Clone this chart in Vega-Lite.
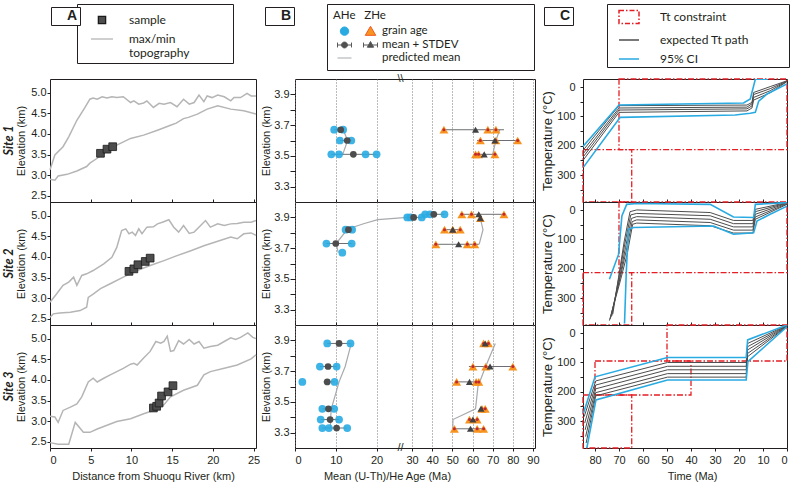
{
"$schema": "https://vega.github.io/schema/vega-lite/v6.json",
"background": "white",
"padding": {"left": 2, "top": 3, "right": 0, "bottom": 0},
"columns": 5,
"spacing": {"row": 0, "column": 0},
"bounds": "flush",
"resolve": {"scale": {"color": "independent", "fill": "independent", "shape": "independent", "stroke": "independent", "strokeDash": "independent"}},
"datasets": {
"topo": [
{"s":1,"k":"max","d":0,"e":3.13},{"s":1,"k":"max","d":0.6,"e":3.49},{"s":1,"k":"max","d":1.6,"e":3.69},{"s":1,"k":"max","d":2.3,"e":3.93},{"s":1,"k":"max","d":3.3,"e":4.33},{"s":1,"k":"max","d":4.3,"e":4.64},{"s":1,"k":"max","d":4.9,"e":4.84},{"s":1,"k":"max","d":5.3,"e":4.87},{"s":1,"k":"max","d":5.8,"e":4.84},{"s":1,"k":"max","d":6.4,"e":4.9},{"s":1,"k":"max","d":7.0,"e":4.87},{"s":1,"k":"max","d":7.6,"e":4.9},{"s":1,"k":"max","d":8.2,"e":4.88},{"s":1,"k":"max","d":9.0,"e":4.9},{"s":1,"k":"max","d":9.9,"e":4.76},{"s":1,"k":"max","d":10.3,"e":4.8},{"s":1,"k":"max","d":10.9,"e":4.72},{"s":1,"k":"max","d":11.5,"e":4.75},{"s":1,"k":"max","d":11.9,"e":4.8},{"s":1,"k":"max","d":12.7,"e":4.64},{"s":1,"k":"max","d":13.4,"e":4.74},{"s":1,"k":"max","d":14.0,"e":4.72},{"s":1,"k":"max","d":14.8,"e":4.76},{"s":1,"k":"max","d":15.6,"e":4.66},{"s":1,"k":"max","d":16.4,"e":4.84},{"s":1,"k":"max","d":17.1,"e":4.72},{"s":1,"k":"max","d":17.7,"e":4.76},{"s":1,"k":"max","d":18.3,"e":4.94},{"s":1,"k":"max","d":18.9,"e":4.78},{"s":1,"k":"max","d":19.3,"e":4.92},{"s":1,"k":"max","d":19.9,"e":4.88},{"s":1,"k":"max","d":20.6,"e":4.94},{"s":1,"k":"max","d":21.4,"e":4.9},{"s":1,"k":"max","d":22.2,"e":4.8},{"s":1,"k":"max","d":22.6,"e":4.88},{"s":1,"k":"max","d":23.4,"e":4.88},{"s":1,"k":"max","d":24.2,"e":4.98},{"s":1,"k":"max","d":24.7,"e":4.92},{"s":1,"k":"max","d":25.3,"e":4.92},
{"s":1,"k":"min","d":0,"e":2.9},{"s":1,"k":"min","d":0.6,"e":2.88},{"s":1,"k":"min","d":1.0,"e":2.98},{"s":1,"k":"min","d":2.1,"e":3.02},{"s":1,"k":"min","d":3.3,"e":3.1},{"s":1,"k":"min","d":4.5,"e":3.21},{"s":1,"k":"min","d":4.9,"e":3.29},{"s":1,"k":"min","d":5.8,"e":3.41},{"s":1,"k":"min","d":6.6,"e":3.53},{"s":1,"k":"min","d":8.2,"e":3.73},{"s":1,"k":"min","d":9.9,"e":3.89},{"s":1,"k":"min","d":11.5,"e":3.97},{"s":1,"k":"min","d":13.2,"e":4.09},{"s":1,"k":"min","d":14.8,"e":4.21},{"s":1,"k":"min","d":15.5,"e":4.26},{"s":1,"k":"min","d":16.4,"e":4.37},{"s":1,"k":"min","d":17.0,"e":4.4},{"s":1,"k":"min","d":18.1,"e":4.48},{"s":1,"k":"min","d":19.3,"e":4.6},{"s":1,"k":"min","d":20.6,"e":4.68},{"s":1,"k":"min","d":22.2,"e":4.6},{"s":1,"k":"min","d":23.8,"e":4.56},{"s":1,"k":"min","d":25.3,"e":4.48},
{"s":2,"k":"max","d":0,"e":2.9},{"s":2,"k":"max","d":0.8,"e":3.1},{"s":2,"k":"max","d":1.6,"e":3.31},{"s":2,"k":"max","d":2.3,"e":3.39},{"s":2,"k":"max","d":2.9,"e":3.51},{"s":2,"k":"max","d":3.3,"e":3.31},{"s":2,"k":"max","d":3.9,"e":3.55},{"s":2,"k":"max","d":4.5,"e":3.59},{"s":2,"k":"max","d":5.3,"e":3.67},{"s":2,"k":"max","d":6.6,"e":3.83},{"s":2,"k":"max","d":7.6,"e":3.99},{"s":2,"k":"max","d":8.2,"e":4.23},{"s":2,"k":"max","d":8.8,"e":4.64},{"s":2,"k":"max","d":9.3,"e":4.68},{"s":2,"k":"max","d":9.7,"e":4.56},{"s":2,"k":"max","d":10.1,"e":4.6},{"s":2,"k":"max","d":10.5,"e":4.52},{"s":2,"k":"max","d":10.9,"e":4.68},{"s":2,"k":"max","d":11.3,"e":4.56},{"s":2,"k":"max","d":11.9,"e":4.72},{"s":2,"k":"max","d":12.7,"e":4.73},{"s":2,"k":"max","d":13.2,"e":4.8},{"s":2,"k":"max","d":13.8,"e":4.84},{"s":2,"k":"max","d":14.6,"e":4.9},{"s":2,"k":"max","d":15.2,"e":4.72},{"s":2,"k":"max","d":15.8,"e":4.6},{"s":2,"k":"max","d":16.4,"e":4.76},{"s":2,"k":"max","d":17.1,"e":4.57},{"s":2,"k":"max","d":17.7,"e":4.6},{"s":2,"k":"max","d":18.5,"e":4.76},{"s":2,"k":"max","d":19.1,"e":4.88},{"s":2,"k":"max","d":19.7,"e":4.72},{"s":2,"k":"max","d":20.6,"e":4.8},{"s":2,"k":"max","d":21.4,"e":4.76},{"s":2,"k":"max","d":22.2,"e":4.8},{"s":2,"k":"max","d":23.0,"e":4.81},{"s":2,"k":"max","d":23.8,"e":4.84},{"s":2,"k":"max","d":24.7,"e":4.84},{"s":2,"k":"max","d":25.3,"e":4.88},
{"s":2,"k":"min","d":0,"e":2.54},{"s":2,"k":"min","d":0.4,"e":2.62},{"s":2,"k":"min","d":1.2,"e":2.64},{"s":2,"k":"min","d":2.5,"e":2.66},{"s":2,"k":"min","d":3.7,"e":2.7},{"s":2,"k":"min","d":4.5,"e":2.78},{"s":2,"k":"min","d":4.7,"e":3.02},{"s":2,"k":"min","d":5.3,"e":3.1},{"s":2,"k":"min","d":6.2,"e":3.23},{"s":2,"k":"min","d":7.4,"e":3.35},{"s":2,"k":"min","d":9.0,"e":3.51},{"s":2,"k":"min","d":10.7,"e":3.67},{"s":2,"k":"min","d":12.3,"e":3.79},{"s":2,"k":"min","d":14.0,"e":3.91},{"s":2,"k":"min","d":15.6,"e":4.03},{"s":2,"k":"min","d":17.3,"e":4.15},{"s":2,"k":"min","d":18.9,"e":4.27},{"s":2,"k":"min","d":20.6,"e":4.38},{"s":2,"k":"min","d":22.2,"e":4.48},{"s":2,"k":"min","d":23.0,"e":4.44},{"s":2,"k":"min","d":23.8,"e":4.56},{"s":2,"k":"min","d":24.7,"e":4.58},{"s":2,"k":"min","d":25.3,"e":4.52},
{"s":3,"k":"max","d":0,"e":3.12},{"s":3,"k":"max","d":0.6,"e":3.1},{"s":3,"k":"max","d":1.0,"e":2.97},{"s":3,"k":"max","d":1.6,"e":3.26},{"s":3,"k":"max","d":2.5,"e":3.34},{"s":3,"k":"max","d":3.3,"e":3.42},{"s":3,"k":"max","d":3.9,"e":3.59},{"s":3,"k":"max","d":4.7,"e":3.95},{"s":3,"k":"max","d":5.3,"e":4.04},{"s":3,"k":"max","d":5.8,"e":3.95},{"s":3,"k":"max","d":6.6,"e":4.04},{"s":3,"k":"max","d":7.4,"e":4.12},{"s":3,"k":"max","d":8.2,"e":4.2},{"s":3,"k":"max","d":9.0,"e":4.28},{"s":3,"k":"max","d":9.9,"e":4.38},{"s":3,"k":"max","d":10.3,"e":4.4},{"s":3,"k":"max","d":10.7,"e":4.36},{"s":3,"k":"max","d":11.5,"e":4.53},{"s":3,"k":"max","d":12.3,"e":4.69},{"s":3,"k":"max","d":13.0,"e":4.93},{"s":3,"k":"max","d":13.6,"e":4.89},{"s":3,"k":"max","d":14.0,"e":4.93},{"s":3,"k":"max","d":14.4,"e":5.06},{"s":3,"k":"max","d":14.8,"e":4.69},{"s":3,"k":"max","d":15.2,"e":4.71},{"s":3,"k":"max","d":15.8,"e":4.95},{"s":3,"k":"max","d":16.4,"e":4.87},{"s":3,"k":"max","d":17.1,"e":4.98},{"s":3,"k":"max","d":17.7,"e":4.87},{"s":3,"k":"max","d":18.3,"e":4.93},{"s":3,"k":"max","d":18.9,"e":4.77},{"s":3,"k":"max","d":19.7,"e":4.81},{"s":3,"k":"max","d":20.6,"e":4.84},{"s":3,"k":"max","d":21.4,"e":4.93},{"s":3,"k":"max","d":22.2,"e":5.02},{"s":3,"k":"max","d":22.8,"e":4.98},{"s":3,"k":"max","d":23.4,"e":5.03},{"s":3,"k":"max","d":24.3,"e":5.14},{"s":3,"k":"max","d":24.9,"e":5.03},{"s":3,"k":"max","d":25.3,"e":5.0},
{"s":3,"k":"min","d":0,"e":2.48},{"s":3,"k":"min","d":1.0,"e":2.44},{"s":3,"k":"min","d":2.3,"e":2.44},{"s":3,"k":"min","d":3.1,"e":2.97},{"s":3,"k":"min","d":4.1,"e":2.73},{"s":3,"k":"min","d":4.9,"e":2.73},{"s":3,"k":"min","d":5.8,"e":2.81},{"s":3,"k":"min","d":7.4,"e":2.93},{"s":3,"k":"min","d":8.2,"e":2.99},{"s":3,"k":"min","d":9.9,"e":3.06},{"s":3,"k":"min","d":11.5,"e":3.18},{"s":3,"k":"min","d":12.7,"e":3.26},{"s":3,"k":"min","d":14.0,"e":3.4},{"s":3,"k":"min","d":14.8,"e":3.59},{"s":3,"k":"min","d":16.4,"e":3.75},{"s":3,"k":"min","d":18.1,"e":3.87},{"s":3,"k":"min","d":18.9,"e":4.12},{"s":3,"k":"min","d":19.7,"e":4.2},{"s":3,"k":"min","d":21.4,"e":4.28},{"s":3,"k":"min","d":23.0,"e":4.36},{"s":3,"k":"min","d":24.7,"e":4.51},{"s":3,"k":"min","d":25.3,"e":4.61}
],
"samples": [
{"s":1,"d":6.2,"e":3.53},{"s":1,"d":7.0,"e":3.63},{"s":1,"d":7.7,"e":3.69},
{"s":2,"d":9.7,"e":3.65},{"s":2,"d":10.3,"e":3.71},{"s":2,"d":10.8,"e":3.81},{"s":2,"d":11.7,"e":3.89},{"s":2,"d":12.3,"e":3.97},
{"s":3,"d":12.7,"e":3.32},{"s":3,"d":13.1,"e":3.36},{"s":3,"d":13.4,"e":3.44},{"s":3,"d":13.7,"e":3.61},{"s":3,"d":14.5,"e":3.71},{"s":3,"d":15.1,"e":3.86}
],
"ahe": [
{"s":1,"e":3.67,"a":9.6},{"s":1,"e":3.67,"a":11.8},{"s":1,"e":3.6,"a":11.0},{"s":1,"e":3.6,"a":13.8},{"s":1,"e":3.51,"a":8.9},{"s":1,"e":3.51,"a":10.8},{"s":1,"e":3.51,"a":17.3},{"s":1,"e":3.51,"a":20.0},
{"s":2,"e":3.67,"a":11.6},{"s":2,"e":3.73,"a":7.7},{"s":2,"e":3.73,"a":13.9},{"s":2,"e":3.82,"a":12.4},{"s":2,"e":3.82,"a":14.0},{"s":2,"e":3.9,"a":27.6},{"s":2,"e":3.9,"a":29.2},{"s":2,"e":3.9,"a":34.8},{"s":2,"e":3.92,"a":36.5},{"s":2,"e":3.92,"a":38.9},{"s":2,"e":3.92,"a":46.1},
{"s":3,"e":3.88,"a":7.9},{"s":3,"e":3.88,"a":13.6},{"s":3,"e":3.73,"a":6.1},{"s":3,"e":3.73,"a":10.2},{"s":3,"e":3.63,"a":1.8},{"s":3,"e":3.63,"a":9.7},{"s":3,"e":3.455,"a":6.7},{"s":3,"e":3.455,"a":9.6},{"s":3,"e":3.385,"a":6.3},{"s":3,"e":3.385,"a":10.8},{"s":3,"e":3.33,"a":6.7},{"s":3,"e":3.33,"a":8.3},{"s":3,"e":3.33,"a":12.8}
],
"aheM": [
{"s":1,"e":3.67,"m":11.2,"lo":9.6,"hi":11.8},{"s":1,"e":3.6,"m":12.8,"lo":11.0,"hi":13.8},{"s":1,"e":3.51,"m":14.3,"lo":8.9,"hi":20.0},
{"s":2,"e":3.73,"m":10.0,"lo":7.7,"hi":13.9},{"s":2,"e":3.82,"m":13.1,"lo":12.4,"hi":14.0},{"s":2,"e":3.9,"m":30.8,"lo":27.6,"hi":34.8},{"s":2,"e":3.92,"m":40.8,"lo":36.5,"hi":46.1},
{"s":3,"e":3.88,"m":10.8,"lo":7.9,"hi":13.6},{"s":3,"e":3.73,"m":8.1,"lo":6.1,"hi":10.2},{"s":3,"e":3.63,"m":7.9,"lo":7.0,"hi":9.7},{"s":3,"e":3.455,"m":8.2,"lo":6.7,"hi":9.6},{"s":3,"e":3.385,"m":8.6,"lo":6.3,"hi":10.8},{"s":3,"e":3.33,"m":10.2,"lo":6.7,"hi":12.8}
],
"zhe": [
{"s":1,"e":3.67,"a":45.8},{"s":1,"e":3.67,"a":67.6},{"s":1,"e":3.67,"a":71.6},{"s":1,"e":3.6,"a":63.9},{"s":1,"e":3.6,"a":71.6},{"s":1,"e":3.6,"a":82.4},{"s":1,"e":3.51,"a":61.5},{"s":1,"e":3.51,"a":63.0},{"s":1,"e":3.51,"a":71.1},
{"s":2,"e":3.92,"a":54.7},{"s":2,"e":3.92,"a":59.5},{"s":2,"e":3.92,"a":75.6},{"s":2,"e":3.895,"a":63.9},{"s":2,"e":3.82,"a":46.1},{"s":2,"e":3.82,"a":50.2},{"s":2,"e":3.82,"a":53.9},{"s":2,"e":3.725,"a":41.8},{"s":2,"e":3.725,"a":57.4},{"s":2,"e":3.725,"a":61.1},
{"s":3,"e":3.88,"a":65.5},{"s":3,"e":3.88,"a":67.9},{"s":3,"e":3.73,"a":60.2},{"s":3,"e":3.73,"a":66.6},{"s":3,"e":3.73,"a":80.0},{"s":3,"e":3.63,"a":52.1},{"s":3,"e":3.63,"a":61.8},{"s":3,"e":3.63,"a":63.1},{"s":3,"e":3.455,"a":64.7},{"s":3,"e":3.455,"a":66.3},{"s":3,"e":3.385,"a":58.5},{"s":3,"e":3.385,"a":62.3},{"s":3,"e":3.325,"a":51.0},{"s":3,"e":3.325,"a":62.3},{"s":3,"e":3.325,"a":65.5}
],
"zheM": [
{"s":1,"e":3.67,"m":61.5,"lo":45.8,"hi":75.6},{"s":1,"e":3.6,"m":71.1,"lo":62.3,"hi":82.4},{"s":1,"e":3.51,"m":65.8,"lo":61.5,"hi":71.1},
{"s":2,"e":3.92,"m":63.1,"lo":54.7,"hi":75.6},{"s":2,"e":3.895,"m":63.9,"lo":63.9,"hi":63.9},{"s":2,"e":3.82,"m":50.2,"lo":46.1,"hi":53.9},{"s":2,"e":3.725,"m":53.1,"lo":41.8,"hi":63.1},
{"s":3,"e":3.88,"m":66.3,"lo":65.5,"hi":67.9},{"s":3,"e":3.73,"m":68.7,"lo":58.2,"hi":80.0},{"s":3,"e":3.63,"m":58.5,"lo":52.1,"hi":63.1},{"s":3,"e":3.455,"m":64.2,"lo":64.0,"hi":66.3},{"s":3,"e":3.385,"m":60.2,"lo":58.5,"hi":62.3},{"s":3,"e":3.325,"m":59.0,"lo":51.0,"hi":65.5}
],
"ahePr": [
{"s":1,"e":3.51,"a":11.7},{"s":1,"e":3.6,"a":12.9},{"s":1,"e":3.67,"a":11.8},
{"s":2,"e":3.67,"a":10.6},{"s":2,"e":3.73,"a":10.1},{"s":2,"e":3.825,"a":12.9},{"s":2,"e":3.86,"a":17.0},{"s":2,"e":3.885,"a":20.3},{"s":2,"e":3.9,"a":27.6},
{"s":3,"e":3.33,"a":8.7},{"s":3,"e":3.385,"a":8.7},{"s":3,"e":3.455,"a":8.9},{"s":3,"e":3.63,"a":10.8},{"s":3,"e":3.73,"a":12.3},{"s":3,"e":3.88,"a":13.8}
],
"zhePr": [
{"s":1,"e":3.51,"a":70.0},{"s":1,"e":3.6,"a":71.6},{"s":1,"e":3.67,"a":73.5},
{"s":2,"e":3.725,"a":63.3},{"s":2,"e":3.82,"a":65.2},{"s":2,"e":3.92,"a":63.4},
{"s":3,"e":3.325,"a":50.2},{"s":3,"e":3.385,"a":50.3},{"s":3,"e":3.455,"a":61.5},{"s":3,"e":3.6,"a":62.7},{"s":3,"e":3.73,"a":66.5},{"s":3,"e":3.88,"a":71.3}
],
"box": [
{"s":1,"t1":70,"t2":0,"T1":-28,"T2":213},{"s":1,"t1":85,"t2":64.7,"T1":213,"T2":392},
{"s":2,"t1":70,"t2":0,"T1":-28,"T2":213},{"s":2,"t1":85,"t2":64.7,"T1":213,"T2":392},
{"s":3,"t1":50,"t2":0,"T1":-28,"T2":95},{"s":3,"t1":80,"t2":40,"T1":95,"T2":211},{"s":3,"t1":85,"t2":64.7,"T1":211,"T2":392}
],
"tt": [
{"s":1,"c":"c","p":"c1","t":85.3,"T":205},{"s":1,"c":"c","p":"c1","t":70,"T":61},{"s":1,"c":"c","p":"c1","t":18.1,"T":54},{"s":1,"c":"c","p":"c1","t":15.3,"T":40},{"s":1,"c":"c","p":"c1","t":13.2,"T":-27},{"s":1,"c":"c","p":"c1","t":8,"T":-27},
{"s":1,"c":"c","p":"c2","t":84.8,"T":273},{"s":1,"c":"c","p":"c2","t":69.5,"T":103},{"s":1,"c":"c","p":"c2","t":21.6,"T":95},{"s":1,"c":"c","p":"c2","t":15.3,"T":89},{"s":1,"c":"c","p":"c2","t":13.2,"T":86},{"s":1,"c":"c","p":"c2","t":11.8,"T":48},{"s":1,"c":"c","p":"c2","t":8.3,"T":23},{"s":1,"c":"c","p":"c2","t":0,"T":-11},
{"s":1,"c":"g","p":"g1","t":85,"T":216},{"s":1,"c":"g","p":"g1","t":70,"T":63},{"s":1,"c":"g","p":"g1","t":16.7,"T":61},{"s":1,"c":"g","p":"g1","t":14.6,"T":52},{"s":1,"c":"g","p":"g1","t":13.9,"T":18},{"s":1,"c":"g","p":"g1","t":7,"T":-2},{"s":1,"c":"g","p":"g1","t":0,"T":-22},
{"s":1,"c":"g","p":"g2","t":85,"T":228},{"s":1,"c":"g","p":"g2","t":70,"T":71},{"s":1,"c":"g","p":"g2","t":16.7,"T":68},{"s":1,"c":"g","p":"g2","t":14.6,"T":57},{"s":1,"c":"g","p":"g2","t":13.9,"T":25},{"s":1,"c":"g","p":"g2","t":7,"T":5},{"s":1,"c":"g","p":"g2","t":0,"T":-21},
{"s":1,"c":"g","p":"g3","t":85,"T":239},{"s":1,"c":"g","p":"g3","t":70,"T":78},{"s":1,"c":"g","p":"g3","t":16.7,"T":74},{"s":1,"c":"g","p":"g3","t":14.6,"T":64},{"s":1,"c":"g","p":"g3","t":13.9,"T":35},{"s":1,"c":"g","p":"g3","t":7,"T":12},{"s":1,"c":"g","p":"g3","t":0,"T":-20},
{"s":1,"c":"g","p":"g4","t":85,"T":250},{"s":1,"c":"g","p":"g4","t":70,"T":86},{"s":1,"c":"g","p":"g4","t":16.7,"T":81},{"s":1,"c":"g","p":"g4","t":14.6,"T":71},{"s":1,"c":"g","p":"g4","t":13.9,"T":44},{"s":1,"c":"g","p":"g4","t":7,"T":19},{"s":1,"c":"g","p":"g4","t":0,"T":-19},
{"s":2,"c":"c","p":"c1","t":74,"T":236},{"s":2,"c":"c","p":"c1","t":70.2,"T":151},{"s":2,"c":"c","p":"c1","t":68.8,"T":20},{"s":2,"c":"c","p":"c1","t":66.8,"T":-20},{"s":2,"c":"c","p":"c1","t":62.6,"T":-23},{"s":2,"c":"c","p":"c1","t":32,"T":-20},{"s":2,"c":"c","p":"c1","t":22.3,"T":23},{"s":2,"c":"c","p":"c1","t":13.9,"T":25},{"s":2,"c":"c","p":"c1","t":13.2,"T":-20},{"s":2,"c":"c","p":"c1","t":0,"T":-26},
{"s":2,"c":"c","p":"c2","t":67.7,"T":387},{"s":2,"c":"c","p":"c2","t":67,"T":219},{"s":2,"c":"c","p":"c2","t":66.1,"T":65},{"s":2,"c":"c","p":"c2","t":64,"T":59},{"s":2,"c":"c","p":"c2","t":30.6,"T":54},{"s":2,"c":"c","p":"c2","t":22.3,"T":82},{"s":2,"c":"c","p":"c2","t":13.9,"T":77},{"s":2,"c":"c","p":"c2","t":12.5,"T":37},{"s":2,"c":"c","p":"c2","t":7,"T":14},{"s":2,"c":"c","p":"c2","t":0,"T":-14},
{"s":2,"c":"g","p":"g1","t":72.6,"T":355},{"s":2,"c":"g","p":"g1","t":70.2,"T":230},{"s":2,"c":"g","p":"g1","t":67.8,"T":105},{"s":2,"c":"g","p":"g1","t":65.4,"T":5},{"s":2,"c":"g","p":"g1","t":62.6,"T":-1},{"s":2,"c":"g","p":"g1","t":32,"T":8},{"s":2,"c":"g","p":"g1","t":22.3,"T":35},{"s":2,"c":"g","p":"g1","t":14.2,"T":35},{"s":2,"c":"g","p":"g1","t":13.2,"T":-3},{"s":2,"c":"g","p":"g1","t":0,"T":-26},
{"s":2,"c":"g","p":"g2","t":73,"T":361},{"s":2,"c":"g","p":"g2","t":70.2,"T":236},{"s":2,"c":"g","p":"g2","t":67.6,"T":116},{"s":2,"c":"g","p":"g2","t":65.1,"T":16},{"s":2,"c":"g","p":"g2","t":62.6,"T":11},{"s":2,"c":"g","p":"g2","t":32,"T":19},{"s":2,"c":"g","p":"g2","t":22.3,"T":46},{"s":2,"c":"g","p":"g2","t":14.2,"T":46},{"s":2,"c":"g","p":"g2","t":13.2,"T":5},{"s":2,"c":"g","p":"g2","t":0,"T":-25},
{"s":2,"c":"g","p":"g3","t":73.4,"T":366},{"s":2,"c":"g","p":"g3","t":70,"T":241},{"s":2,"c":"g","p":"g3","t":67.3,"T":128},{"s":2,"c":"g","p":"g3","t":64.8,"T":28},{"s":2,"c":"g","p":"g3","t":62.6,"T":22},{"s":2,"c":"g","p":"g3","t":32,"T":31},{"s":2,"c":"g","p":"g3","t":22.3,"T":57},{"s":2,"c":"g","p":"g3","t":14.2,"T":57},{"s":2,"c":"g","p":"g3","t":13.2,"T":14},{"s":2,"c":"g","p":"g3","t":0,"T":-24},
{"s":2,"c":"g","p":"g4","t":73.7,"T":372},{"s":2,"c":"g","p":"g4","t":70,"T":247},{"s":2,"c":"g","p":"g4","t":67,"T":139},{"s":2,"c":"g","p":"g4","t":64.5,"T":39},{"s":2,"c":"g","p":"g4","t":62.6,"T":33},{"s":2,"c":"g","p":"g4","t":32,"T":42},{"s":2,"c":"g","p":"g4","t":22.3,"T":68},{"s":2,"c":"g","p":"g4","t":14.2,"T":68},{"s":2,"c":"g","p":"g4","t":13.2,"T":23},{"s":2,"c":"g","p":"g4","t":0,"T":-22},
{"s":2,"c":"g","p":"g5","t":74,"T":377},{"s":2,"c":"g","p":"g5","t":69.8,"T":252},{"s":2,"c":"g","p":"g5","t":66.6,"T":150},{"s":2,"c":"g","p":"g5","t":64.3,"T":48},{"s":2,"c":"g","p":"g5","t":62.6,"T":44},{"s":2,"c":"g","p":"g5","t":32,"T":53},{"s":2,"c":"g","p":"g5","t":22.3,"T":78},{"s":2,"c":"g","p":"g5","t":14.2,"T":78},{"s":2,"c":"g","p":"g5","t":13.2,"T":31},{"s":2,"c":"g","p":"g5","t":0,"T":-20},
{"s":3,"c":"c","p":"c1","t":84.8,"T":273},{"s":3,"c":"c","p":"c1","t":80,"T":149},{"s":3,"c":"c","p":"c1","t":49.8,"T":83},{"s":3,"c":"c","p":"c1","t":17,"T":83},{"s":3,"c":"c","p":"c1","t":16.4,"T":23},{"s":3,"c":"c","p":"c1","t":0,"T":-28},
{"s":3,"c":"c","p":"c2","t":83.4,"T":392},{"s":3,"c":"c","p":"c2","t":79.6,"T":228},{"s":3,"c":"c","p":"c2","t":49.8,"T":160},{"s":3,"c":"c","p":"c2","t":17,"T":160},{"s":3,"c":"c","p":"c2","t":16.3,"T":97},{"s":3,"c":"c","p":"c2","t":0,"T":-22},
{"s":3,"c":"g","p":"g1","t":84.5,"T":285},{"s":3,"c":"g","p":"g1","t":79.7,"T":163},{"s":3,"c":"g","p":"g1","t":49.8,"T":100},{"s":3,"c":"g","p":"g1","t":17,"T":100},{"s":3,"c":"g","p":"g1","t":16.4,"T":35},{"s":3,"c":"g","p":"g1","t":0,"T":-27},
{"s":3,"c":"g","p":"g2","t":84.3,"T":307},{"s":3,"c":"g","p":"g2","t":79.7,"T":177},{"s":3,"c":"g","p":"g2","t":49.8,"T":113},{"s":3,"c":"g","p":"g2","t":17,"T":113},{"s":3,"c":"g","p":"g2","t":16.4,"T":46},{"s":3,"c":"g","p":"g2","t":0,"T":-26},
{"s":3,"c":"g","p":"g3","t":84.1,"T":330},{"s":3,"c":"g","p":"g3","t":79.7,"T":190},{"s":3,"c":"g","p":"g3","t":49.8,"T":125},{"s":3,"c":"g","p":"g3","t":17,"T":125},{"s":3,"c":"g","p":"g3","t":16.4,"T":57},{"s":3,"c":"g","p":"g3","t":0,"T":-25},
{"s":3,"c":"g","p":"g4","t":83.9,"T":353},{"s":3,"c":"g","p":"g4","t":79.7,"T":203},{"s":3,"c":"g","p":"g4","t":49.8,"T":138},{"s":3,"c":"g","p":"g4","t":17,"T":138},{"s":3,"c":"g","p":"g4","t":16.4,"T":69},{"s":3,"c":"g","p":"g4","t":0,"T":-24},
{"s":3,"c":"g","p":"g5","t":83.7,"T":375},{"s":3,"c":"g","p":"g5","t":79.7,"T":214},{"s":3,"c":"g","p":"g5","t":49.8,"T":150},{"s":3,"c":"g","p":"g5","t":17,"T":150},{"s":3,"c":"g","p":"g5","t":16.4,"T":80},{"s":3,"c":"g","p":"g5","t":0,"T":-23}
]
},
"concat": [
{
 "width": 206, "height": 123,
 "title": {"text": "Site 1", "orient": "left", "font": "Lato", "fontSize": 12.5, "fontWeight": "bold", "fontStyle": "italic", "color": "#231f20", "offset": 0},
 "resolve": {"scale": {"color": "independent"}},
 "layer": [
  {"data": {"name": "topo"}, "transform": [{"filter": "datum.s == 1"}], "mark": {"type": "line", "color": "#b5b5b5", "strokeWidth": 1.5},
   "encoding": {"x": {"field": "d", "type": "quantitative", "scale": {"domain": [0, 25.3], "nice": false, "zero": false}, "axis": {"values": [0,5,10,15,20,25], "tickCount": 30, "labels": false, "title": null, "tickSize": -3}},
    "y": {"field": "e", "type": "quantitative", "scale": {"domain": [2.35, 5.33], "nice": false, "zero": false}, "axis": {"values": [2.5,3,3.5,4,4.5,5], "tickCount": 30, "format": ".1f", "labelOverlap": false, "title": "Elevation (km)", "labelPadding": 1, "titlePadding": 4}},
    "detail": {"field": "k", "type": "nominal"}, "order": {"field": "d", "type": "quantitative"}}},
  {"data": {"name": "samples"}, "transform": [{"filter": "datum.s == 1"}], "mark": {"type": "square", "size": 60, "fill": "#4d4d4d", "stroke": "#1a1a1a", "strokeWidth": 0.8, "opacity": 1},
   "encoding": {"x": {"field": "d", "type": "quantitative"}, "y": {"field": "e", "type": "quantitative"}}},
  {"data": {"values": [{"p": "A"}]}, "mark": {"type": "point", "opacity": 0},
   "encoding": {"color": {"field": "p", "type": "nominal", "scale": {"range": ["#231f20"]},
    "legend": {"title": null, "orient": "none", "legendX": 1, "legendY": -72, "padding": 2, "symbolSize": 0.01, "symbolOpacity": 0, "symbolOffset": 0, "labelOffset": 0, "labelFont": "Liberation Sans", "labelFontSize": 14, "labelFontWeight": "bold", "strokeColor": "#231f20"}}}},
  {"data": {"values": [{"lg": "sample"}, {"lg": "max/min topography"}]}, "mark": {"type": "point", "filled": true, "opacity": 0},
   "encoding": {
    "shape": {"field": "lg", "type": "nominal", "scale": {"domain": ["sample", "max/min topography"], "range": ["M-0.33,-0.33L0.33,-0.33L0.33,0.33L-0.33,0.33Z", "M-1,0L1,0M11.3,0L11.3,0"]},
     "legend": {"title": null, "orient": "none", "legendX": 27, "legendY": -75, "padding": 4, "symbolSize": 484, "symbolOffset": 9, "labelOffset": 15, "rowPadding": 0, "symbolOpacity": 1, "symbolStrokeWidth": 1.3, "labelExpr": "datum.value == 'sample' ? 'sample' : ['max/min', 'topography']"}},
    "fill": {"field": "lg", "type": "nominal", "scale": {"domain": ["sample", "max/min topography"], "range": ["#4d4d4d", "transparent"]},
     "legend": {"title": null, "orient": "none", "legendX": 27, "legendY": -75, "padding": 4, "symbolSize": 484, "symbolOffset": 9, "labelOffset": 15, "rowPadding": 0, "symbolOpacity": 1, "symbolStrokeWidth": 1.3, "labelExpr": "datum.value == 'sample' ? 'sample' : ['max/min', 'topography']"}},
    "stroke": {"field": "lg", "type": "nominal", "scale": {"domain": ["sample", "max/min topography"], "range": ["#1a1a1a", "#b5b5b5"]},
     "legend": {"title": null, "orient": "none", "legendX": 27, "legendY": -75, "padding": 4, "symbolSize": 484, "symbolOffset": 9, "labelOffset": 15, "rowPadding": 0, "symbolOpacity": 1, "symbolStrokeWidth": 1.3, "labelExpr": "datum.value == 'sample' ? 'sample' : ['max/min', 'topography']"}}}}
 ]
},
{"width": 39, "height": 123, "view": {"stroke": null}, "data": {"values": [{}]}, "mark": {"type": "point", "opacity": 0}, "encoding": {}},
{
 "width": 240, "height": 123,
 "resolve": {"scale": {"color": "independent"}},
 "layer": [
  {"data": {"name": "ahePr"}, "transform": [{"filter": "datum.s == 1"}], "mark": {"type": "line", "color": "#a7a9ac", "strokeWidth": 1.2},
   "encoding": {"x": {"field": "a", "type": "quantitative", "scale": {"domain": [0,25,26,91], "range": [0,102,109,240], "nice": false, "zero": false}, "axis": {"values": [0,10,20,30,40,50,60,70,80,90], "tickCount": 30, "labels": false, "title": null, "tickSize": -3, "grid": true, "gridDash": [1,2], "gridColor": "#777777", "gridWidth": 1}},
    "y": {"field": "e", "type": "quantitative", "scale": {"domain": [3.2, 4.0], "nice": false, "zero": false}, "axis": {"values": [3.3,3.4,3.5,3.6,3.7,3.8,3.9], "tickCount": 30, "labelOverlap": false, "labelExpr": "round(datum.value*10) % 2 == 1 ? format(datum.value, '.1f') : ''", "tickSize": 5, "labelPadding": 1, "title": "Elevation (km)", "titlePadding": 2}},
    "order": {"field": "e", "type": "quantitative"}}},
  {"data": {"name": "zhePr"}, "transform": [{"filter": "datum.s == 1"}], "mark": {"type": "line", "color": "#a7a9ac", "strokeWidth": 1.2},
   "encoding": {"x": {"field": "a", "type": "quantitative"}, "y": {"field": "e", "type": "quantitative"}, "order": {"field": "e", "type": "quantitative"}}},
  {"data": {"name": "aheM"}, "transform": [{"filter": "datum.s == 1"}], "mark": {"type": "rule", "color": "#6d6e71", "strokeWidth": 1},
   "encoding": {"x": {"field": "lo", "type": "quantitative"}, "x2": {"field": "hi"}, "y": {"field": "e", "type": "quantitative"}}},
  {"data": {"name": "zheM"}, "transform": [{"filter": "datum.s == 1"}], "mark": {"type": "rule", "color": "#6d6e71", "strokeWidth": 1},
   "encoding": {"x": {"field": "lo", "type": "quantitative"}, "x2": {"field": "hi"}, "y": {"field": "e", "type": "quantitative"}}},
  {"data": {"name": "ahe"}, "transform": [{"filter": "datum.s == 1"}], "mark": {"type": "circle", "size": 60, "color": "#29abe2", "opacity": 0.9},
   "encoding": {"x": {"field": "a", "type": "quantitative"}, "y": {"field": "e", "type": "quantitative"}}},
  {"data": {"name": "zhe"}, "transform": [{"filter": "datum.s == 1"}], "mark": {"type": "point", "shape": "triangle-up", "size": 80, "filled": true, "color": "#f7931e", "opacity": 1},
   "encoding": {"x": {"field": "a", "type": "quantitative"}, "y": {"field": "e", "type": "quantitative"}}},
  {"data": {"name": "zhe"}, "transform": [{"filter": "datum.s == 1"}], "mark": {"type": "circle", "size": 9, "color": "#c1272d", "opacity": 1},
   "encoding": {"x": {"field": "a", "type": "quantitative"}, "y": {"field": "e", "type": "quantitative"}}},
  {"data": {"name": "aheM"}, "transform": [{"filter": "datum.s == 1"}], "mark": {"type": "circle", "size": 45, "color": "#4d4d4d", "opacity": 1},
   "encoding": {"x": {"field": "m", "type": "quantitative"}, "y": {"field": "e", "type": "quantitative"}}},
  {"data": {"name": "zheM"}, "transform": [{"filter": "datum.s == 1"}], "mark": {"type": "point", "shape": "triangle-up", "size": 50, "filled": true, "color": "#414042", "opacity": 1},
   "encoding": {"x": {"field": "m", "type": "quantitative"}, "y": {"field": "e", "type": "quantitative"}}},
  {"data": {"values": [{}]}, "mark": {"type": "text", "text": "\\\\", "fontSize": 11, "font": "Liberation Sans", "color": "#231f20"},
   "encoding": {"x": {"datum": 25.5, "type": "quantitative"}, "y": {"datum": 4.0, "type": "quantitative"}}},
  {"data": {"values": [{"p": "B"}]}, "mark": {"type": "point", "opacity": 0},
   "encoding": {"color": {"field": "p", "type": "nominal", "scale": {"range": ["#231f20"]},
    "legend": {"title": null, "orient": "none", "legendX": -30, "legendY": -72, "padding": 2, "symbolSize": 0.01, "symbolOpacity": 0, "symbolOffset": 0, "labelOffset": 0, "labelFont": "Liberation Sans", "labelFontSize": 14, "labelFontWeight": "bold", "strokeColor": "#231f20"}}}},
  {"data": {"values": [{"lg": "a1"}, {"lg": "a2"}, {"lg": "a3"}, {"lg": "grain age"}, {"lg": "mean + STDEV"}, {"lg": "predicted mean"}]}, "mark": {"type": "point", "filled": true, "opacity": 0},
   "encoding": {
    "shape": {"field": "lg", "type": "nominal", "scale": {"domain": ["a1", "a2", "a3", "grain age", "mean + STDEV", "predicted mean"], "range": ["M-0.6,0A0.6,0.6,0,1,0,0.6,0A0.6,0.6,0,1,0,-0.6,0Z", "M-1,0L1,0M-1,-0.35L-1,0.35M1,-0.35L1,0.35M-0.42,0A0.42,0.42,0,1,0,0.42,0A0.42,0.42,0,1,0,-0.42,0Z", "M-1,0L1,0", "M0,-0.7L0.75,0.6L-0.75,0.6Z", "M-1,0L1,0M-1,-0.35L-1,0.35M1,-0.35L1,0.35M0,-0.5L0.45,0.32L-0.45,0.32Z", "M0,0L0,0M22.2,0L22.2,0"]},
     "legend": {"title": "AHe\u00a0\u00a0\u00a0ZHe", "titleFontSize": 11.5, "titlePadding": 2, "orient": "none", "legendX": 32, "legendY": -75, "padding": 6, "columns": 2, "columnPadding": 3, "rowPadding": 0, "symbolSize": 196, "symbolOffset": 4, "labelOffset": 4, "labelFontSize": 11.5, "symbolOpacity": 1, "symbolStrokeWidth": 1, "labelExpr": "length(datum.value) < 3 ? '' : datum.label"}},
    "fill": {"field": "lg", "type": "nominal", "scale": {"domain": ["a1", "a2", "a3", "grain age", "mean + STDEV", "predicted mean"], "range": ["#29abe2", "#4d4d4d", "transparent", "#f7931e", "#4d4d4d", "transparent"]},
     "legend": {"title": "AHe\u00a0\u00a0\u00a0ZHe", "titleFontSize": 11.5, "titlePadding": 2, "orient": "none", "legendX": 32, "legendY": -75, "padding": 6, "columns": 2, "columnPadding": 3, "rowPadding": 0, "symbolSize": 196, "symbolOffset": 4, "labelOffset": 4, "labelFontSize": 11.5, "symbolOpacity": 1, "symbolStrokeWidth": 1, "labelExpr": "length(datum.value) < 3 ? '' : datum.label"}},
    "stroke": {"field": "lg", "type": "nominal", "scale": {"domain": ["a1", "a2", "a3", "grain age", "mean + STDEV", "predicted mean"], "range": ["#29abe2", "#58595b", "#a7a9ac", "#f15a24", "#58595b", "transparent"]},
     "legend": {"title": "AHe\u00a0\u00a0\u00a0ZHe", "titleFontSize": 11.5, "titlePadding": 2, "orient": "none", "legendX": 32, "legendY": -75, "padding": 6, "columns": 2, "columnPadding": 3, "rowPadding": 0, "symbolSize": 196, "symbolOffset": 4, "labelOffset": 4, "labelFontSize": 11.5, "symbolOpacity": 1, "symbolStrokeWidth": 1, "labelExpr": "length(datum.value) < 3 ? '' : datum.label"}}}}
 ]
},
{"width": 48, "height": 123, "view": {"stroke": null}, "data": {"values": [{}]}, "mark": {"type": "point", "opacity": 0}, "encoding": {}},
{
 "width": 204, "height": 123,
 "resolve": {"scale": {"color": "independent"}},
 "layer": [
  {"data": {"name": "box"}, "transform": [{"filter": "datum.s == 1"}], "mark": {"type": "rect", "filled": false, "color": "#e31e24", "stroke": "#e31e24", "strokeWidth": 1.3, "strokeDash": [6,2,1.5,2]},
   "encoding": {"x": {"field": "t1", "type": "quantitative", "scale": {"domain": [0, 85], "reverse": true, "nice": false, "zero": false}, "axis": {"values": [80,70,60,50,40,30,20,10,0], "tickCount": 30, "labels": false, "title": null, "tickSize": -3}},
    "x2": {"field": "t2"},
    "y": {"field": "T1", "type": "quantitative", "scale": {"domain": [-28, 392], "reverse": true, "nice": false, "zero": false}, "axis": {"values": [0,50,100,150,200,250,300,350], "tickCount": 30, "labelOverlap": false, "labelExpr": "datum.value % 100 == 0 ? datum.label : ''", "tickSize": 3, "labelPadding": 5, "title": "Temperature (°C)", "titleFontSize": 13, "titlePadding": 2}},
    "y2": {"field": "T2"}}},
  {"data": {"name": "tt"}, "transform": [{"filter": "datum.s == 1 && datum.c == 'g'"}], "mark": {"type": "line", "color": "#4d4d4d", "strokeWidth": 1, "clip": true},
   "encoding": {"x": {"field": "t", "type": "quantitative"}, "y": {"field": "T", "type": "quantitative"}, "detail": {"field": "p", "type": "nominal"}, "order": {"field": "t", "type": "quantitative"}}},
  {"data": {"name": "tt"}, "transform": [{"filter": "datum.s == 1 && datum.c == 'c'"}], "mark": {"type": "line", "color": "#29abe2", "strokeWidth": 1.6, "clip": true},
   "encoding": {"x": {"field": "t", "type": "quantitative"}, "y": {"field": "T", "type": "quantitative"}, "detail": {"field": "p", "type": "nominal"}, "order": {"field": "t", "type": "quantitative"}}},
  {"data": {"values": [{"p": "C"}]}, "mark": {"type": "point", "opacity": 0},
   "encoding": {"color": {"field": "p", "type": "nominal", "scale": {"range": ["#231f20"]},
    "legend": {"title": null, "orient": "none", "legendX": -39, "legendY": -72, "padding": 2, "symbolSize": 0.01, "symbolOpacity": 0, "symbolOffset": 0, "labelOffset": 0, "labelFont": "Liberation Sans", "labelFontSize": 14, "labelFontWeight": "bold", "strokeColor": "#231f20"}}}},
  {"data": {"values": [{"lg": "Tt constraint"}, {"lg": "expected Tt path"}, {"lg": "95% CI"}]}, "mark": {"type": "point", "filled": false, "opacity": 0},
   "encoding": {
    "shape": {"field": "lg", "type": "nominal", "scale": {"domain": ["Tt constraint", "expected Tt path", "95% CI"], "range": ["M-1,-0.65L1,-0.65L1,0.65L-1,0.65Z", "M-1,0L1,0M15.5,0L15.5,0", "M-1,0L1,0"]},
     "legend": {"title": null, "orient": "none", "legendX": 24, "legendY": -75, "padding": 2, "symbolSize": 400, "symbolOffset": 9, "labelOffset": 20, "rowPadding": 2, "symbolOpacity": 1, "symbolStrokeWidth": 1.5}},
    "stroke": {"field": "lg", "type": "nominal", "scale": {"domain": ["Tt constraint", "expected Tt path", "95% CI"], "range": ["#e31e24", "#4d4d4d", "#29abe2"]},
     "legend": {"title": null, "orient": "none", "legendX": 24, "legendY": -75, "padding": 2, "symbolSize": 400, "symbolOffset": 9, "labelOffset": 20, "rowPadding": 2, "symbolOpacity": 1, "symbolStrokeWidth": 1.5}},
    "strokeDash": {"field": "lg", "type": "nominal", "scale": {"domain": ["Tt constraint", "expected Tt path", "95% CI"], "range": [[5,2,1.5,2], [1,0], [1,0]]},
     "legend": {"title": null, "orient": "none", "legendX": 24, "legendY": -75, "padding": 2, "symbolSize": 400, "symbolOffset": 9, "labelOffset": 20, "rowPadding": 2, "symbolOpacity": 1, "symbolStrokeWidth": 1.5}}}}
 ]
},
{
 "width": 206, "height": 123,
 "title": {"text": "Site 2", "orient": "left", "font": "Lato", "fontSize": 12.5, "fontWeight": "bold", "fontStyle": "italic", "color": "#231f20", "offset": 0},
 "layer": [
  {"data": {"name": "topo"}, "transform": [{"filter": "datum.s == 2"}], "mark": {"type": "line", "color": "#b5b5b5", "strokeWidth": 1.5},
   "encoding": {"x": {"field": "d", "type": "quantitative", "scale": {"domain": [0, 25.3], "nice": false, "zero": false}, "axis": {"values": [0,5,10,15,20,25], "tickCount": 30, "labels": false, "title": null, "tickSize": -3}},
    "y": {"field": "e", "type": "quantitative", "scale": {"domain": [2.35, 5.33], "nice": false, "zero": false}, "axis": {"values": [2.5,3,3.5,4,4.5,5], "tickCount": 30, "format": ".1f", "labelOverlap": false, "title": "Elevation (km)", "labelPadding": 1, "titlePadding": 4}},
    "detail": {"field": "k", "type": "nominal"}, "order": {"field": "d", "type": "quantitative"}}},
  {"data": {"name": "samples"}, "transform": [{"filter": "datum.s == 2"}], "mark": {"type": "square", "size": 60, "fill": "#4d4d4d", "stroke": "#1a1a1a", "strokeWidth": 0.8, "opacity": 1},
   "encoding": {"x": {"field": "d", "type": "quantitative"}, "y": {"field": "e", "type": "quantitative"}}}
 ]
},
{"width": 39, "height": 123, "view": {"stroke": null}, "data": {"values": [{}]}, "mark": {"type": "point", "opacity": 0}, "encoding": {}},
{
 "width": 240, "height": 123,
 "layer": [
  {"data": {"name": "ahePr"}, "transform": [{"filter": "datum.s == 2"}], "mark": {"type": "line", "color": "#a7a9ac", "strokeWidth": 1.2},
   "encoding": {"x": {"field": "a", "type": "quantitative", "scale": {"domain": [0,25,26,91], "range": [0,102,109,240], "nice": false, "zero": false}, "axis": {"values": [0,10,20,30,40,50,60,70,80,90], "tickCount": 30, "labels": false, "title": null, "tickSize": -3, "grid": true, "gridDash": [1,2], "gridColor": "#777777", "gridWidth": 1}},
    "y": {"field": "e", "type": "quantitative", "scale": {"domain": [3.2, 4.0], "nice": false, "zero": false}, "axis": {"values": [3.3,3.4,3.5,3.6,3.7,3.8,3.9], "tickCount": 30, "labelOverlap": false, "labelExpr": "round(datum.value*10) % 2 == 1 ? format(datum.value, '.1f') : ''", "tickSize": 5, "labelPadding": 1, "title": "Elevation (km)", "titlePadding": 2}},
    "order": {"field": "e", "type": "quantitative"}}},
  {"data": {"name": "zhePr"}, "transform": [{"filter": "datum.s == 2"}], "mark": {"type": "line", "color": "#a7a9ac", "strokeWidth": 1.2},
   "encoding": {"x": {"field": "a", "type": "quantitative"}, "y": {"field": "e", "type": "quantitative"}, "order": {"field": "e", "type": "quantitative"}}},
  {"data": {"name": "aheM"}, "transform": [{"filter": "datum.s == 2"}], "mark": {"type": "rule", "color": "#6d6e71", "strokeWidth": 1},
   "encoding": {"x": {"field": "lo", "type": "quantitative"}, "x2": {"field": "hi"}, "y": {"field": "e", "type": "quantitative"}}},
  {"data": {"name": "zheM"}, "transform": [{"filter": "datum.s == 2"}], "mark": {"type": "rule", "color": "#6d6e71", "strokeWidth": 1},
   "encoding": {"x": {"field": "lo", "type": "quantitative"}, "x2": {"field": "hi"}, "y": {"field": "e", "type": "quantitative"}}},
  {"data": {"name": "ahe"}, "transform": [{"filter": "datum.s == 2"}], "mark": {"type": "circle", "size": 60, "color": "#29abe2", "opacity": 0.9},
   "encoding": {"x": {"field": "a", "type": "quantitative"}, "y": {"field": "e", "type": "quantitative"}}},
  {"data": {"name": "zhe"}, "transform": [{"filter": "datum.s == 2"}], "mark": {"type": "point", "shape": "triangle-up", "size": 80, "filled": true, "color": "#f7931e", "opacity": 1},
   "encoding": {"x": {"field": "a", "type": "quantitative"}, "y": {"field": "e", "type": "quantitative"}}},
  {"data": {"name": "zhe"}, "transform": [{"filter": "datum.s == 2"}], "mark": {"type": "circle", "size": 9, "color": "#c1272d", "opacity": 1},
   "encoding": {"x": {"field": "a", "type": "quantitative"}, "y": {"field": "e", "type": "quantitative"}}},
  {"data": {"name": "aheM"}, "transform": [{"filter": "datum.s == 2"}], "mark": {"type": "circle", "size": 45, "color": "#4d4d4d", "opacity": 1},
   "encoding": {"x": {"field": "m", "type": "quantitative"}, "y": {"field": "e", "type": "quantitative"}}},
  {"data": {"name": "zheM"}, "transform": [{"filter": "datum.s == 2"}], "mark": {"type": "point", "shape": "triangle-up", "size": 50, "filled": true, "color": "#414042", "opacity": 1},
   "encoding": {"x": {"field": "m", "type": "quantitative"}, "y": {"field": "e", "type": "quantitative"}}}
 ]
},
{"width": 48, "height": 123, "view": {"stroke": null}, "data": {"values": [{}]}, "mark": {"type": "point", "opacity": 0}, "encoding": {}},
{
 "width": 204, "height": 123,
 "layer": [
  {"data": {"name": "box"}, "transform": [{"filter": "datum.s == 2"}], "mark": {"type": "rect", "filled": false, "color": "#e31e24", "stroke": "#e31e24", "strokeWidth": 1.3, "strokeDash": [6,2,1.5,2]},
   "encoding": {"x": {"field": "t1", "type": "quantitative", "scale": {"domain": [0, 85], "reverse": true, "nice": false, "zero": false}, "axis": {"values": [80,70,60,50,40,30,20,10,0], "tickCount": 30, "labels": false, "title": null, "tickSize": -3}},
    "x2": {"field": "t2"},
    "y": {"field": "T1", "type": "quantitative", "scale": {"domain": [-28, 392], "reverse": true, "nice": false, "zero": false}, "axis": {"values": [0,50,100,150,200,250,300,350], "tickCount": 30, "labelOverlap": false, "labelExpr": "datum.value % 100 == 0 ? datum.label : ''", "tickSize": 3, "labelPadding": 5, "title": "Temperature (°C)", "titleFontSize": 13, "titlePadding": 2}},
    "y2": {"field": "T2"}}},
  {"data": {"name": "tt"}, "transform": [{"filter": "datum.s == 2 && datum.c == 'g'"}], "mark": {"type": "line", "color": "#4d4d4d", "strokeWidth": 1, "clip": true},
   "encoding": {"x": {"field": "t", "type": "quantitative"}, "y": {"field": "T", "type": "quantitative"}, "detail": {"field": "p", "type": "nominal"}, "order": {"field": "t", "type": "quantitative"}}},
  {"data": {"name": "tt"}, "transform": [{"filter": "datum.s == 2 && datum.c == 'c'"}], "mark": {"type": "line", "color": "#29abe2", "strokeWidth": 1.6, "clip": true},
   "encoding": {"x": {"field": "t", "type": "quantitative"}, "y": {"field": "T", "type": "quantitative"}, "detail": {"field": "p", "type": "nominal"}, "order": {"field": "t", "type": "quantitative"}}}
 ]
},
{
 "width": 206, "height": 123,
 "title": {"text": "Site 3", "orient": "left", "font": "Lato", "fontSize": 12.5, "fontWeight": "bold", "fontStyle": "italic", "color": "#231f20", "offset": 0},
 "layer": [
  {"data": {"name": "topo"}, "transform": [{"filter": "datum.s == 3"}], "mark": {"type": "line", "color": "#b5b5b5", "strokeWidth": 1.5},
   "encoding": {"x": {"field": "d", "type": "quantitative", "scale": {"domain": [0, 25.3], "nice": false, "zero": false}, "axis": {"values": [0,5,10,15,20,25], "tickCount": 30, "labelOverlap": false, "title": "Distance from Shuoqu River (km)", "labelPadding": 3, "titlePadding": 5}},
    "y": {"field": "e", "type": "quantitative", "scale": {"domain": [2.35, 5.33], "nice": false, "zero": false}, "axis": {"values": [2.5,3,3.5,4,4.5,5], "tickCount": 30, "format": ".1f", "labelOverlap": false, "title": "Elevation (km)", "labelPadding": 1, "titlePadding": 4}},
    "detail": {"field": "k", "type": "nominal"}, "order": {"field": "d", "type": "quantitative"}}},
  {"data": {"name": "samples"}, "transform": [{"filter": "datum.s == 3"}], "mark": {"type": "square", "size": 60, "fill": "#4d4d4d", "stroke": "#1a1a1a", "strokeWidth": 0.8, "opacity": 1},
   "encoding": {"x": {"field": "d", "type": "quantitative"}, "y": {"field": "e", "type": "quantitative"}}}
 ]
},
{"width": 39, "height": 123, "view": {"stroke": null}, "data": {"values": [{}]}, "mark": {"type": "point", "opacity": 0}, "encoding": {}},
{
 "width": 240, "height": 123,
 "layer": [
  {"data": {"name": "ahePr"}, "transform": [{"filter": "datum.s == 3"}], "mark": {"type": "line", "color": "#a7a9ac", "strokeWidth": 1.2},
   "encoding": {"x": {"field": "a", "type": "quantitative", "scale": {"domain": [0,25,26,91], "range": [0,102,109,240], "nice": false, "zero": false}, "axis": {"values": [0,10,20,30,40,50,60,70,80,90], "tickCount": 30, "labelOverlap": false, "title": "Mean (U-Th)/He Age (Ma)", "titleX": 92, "labelPadding": 3, "titlePadding": 5, "grid": true, "gridDash": [1,2], "gridColor": "#777777", "gridWidth": 1}},
    "y": {"field": "e", "type": "quantitative", "scale": {"domain": [3.2, 4.0], "nice": false, "zero": false}, "axis": {"values": [3.3,3.4,3.5,3.6,3.7,3.8,3.9], "tickCount": 30, "labelOverlap": false, "labelExpr": "round(datum.value*10) % 2 == 1 ? format(datum.value, '.1f') : ''", "tickSize": 5, "labelPadding": 1, "title": "Elevation (km)", "titlePadding": 2}},
    "order": {"field": "e", "type": "quantitative"}}},
  {"data": {"name": "zhePr"}, "transform": [{"filter": "datum.s == 3"}], "mark": {"type": "line", "color": "#a7a9ac", "strokeWidth": 1.2},
   "encoding": {"x": {"field": "a", "type": "quantitative"}, "y": {"field": "e", "type": "quantitative"}, "order": {"field": "e", "type": "quantitative"}}},
  {"data": {"name": "aheM"}, "transform": [{"filter": "datum.s == 3"}], "mark": {"type": "rule", "color": "#6d6e71", "strokeWidth": 1},
   "encoding": {"x": {"field": "lo", "type": "quantitative"}, "x2": {"field": "hi"}, "y": {"field": "e", "type": "quantitative"}}},
  {"data": {"name": "zheM"}, "transform": [{"filter": "datum.s == 3"}], "mark": {"type": "rule", "color": "#6d6e71", "strokeWidth": 1},
   "encoding": {"x": {"field": "lo", "type": "quantitative"}, "x2": {"field": "hi"}, "y": {"field": "e", "type": "quantitative"}}},
  {"data": {"name": "ahe"}, "transform": [{"filter": "datum.s == 3"}], "mark": {"type": "circle", "size": 60, "color": "#29abe2", "opacity": 0.9},
   "encoding": {"x": {"field": "a", "type": "quantitative"}, "y": {"field": "e", "type": "quantitative"}}},
  {"data": {"name": "zhe"}, "transform": [{"filter": "datum.s == 3"}], "mark": {"type": "point", "shape": "triangle-up", "size": 80, "filled": true, "color": "#f7931e", "opacity": 1},
   "encoding": {"x": {"field": "a", "type": "quantitative"}, "y": {"field": "e", "type": "quantitative"}}},
  {"data": {"name": "zhe"}, "transform": [{"filter": "datum.s == 3"}], "mark": {"type": "circle", "size": 9, "color": "#c1272d", "opacity": 1},
   "encoding": {"x": {"field": "a", "type": "quantitative"}, "y": {"field": "e", "type": "quantitative"}}},
  {"data": {"name": "aheM"}, "transform": [{"filter": "datum.s == 3"}], "mark": {"type": "circle", "size": 45, "color": "#4d4d4d", "opacity": 1},
   "encoding": {"x": {"field": "m", "type": "quantitative"}, "y": {"field": "e", "type": "quantitative"}}},
  {"data": {"name": "zheM"}, "transform": [{"filter": "datum.s == 3"}], "mark": {"type": "point", "shape": "triangle-up", "size": 50, "filled": true, "color": "#414042", "opacity": 1},
   "encoding": {"x": {"field": "m", "type": "quantitative"}, "y": {"field": "e", "type": "quantitative"}}},
  {"data": {"values": [{}]}, "mark": {"type": "text", "text": "//", "fontSize": 11, "font": "Liberation Sans", "color": "#231f20"},
   "encoding": {"x": {"datum": 25.5, "type": "quantitative"}, "y": {"datum": 3.2, "type": "quantitative"}}}
 ]
},
{"width": 48, "height": 123, "view": {"stroke": null}, "data": {"values": [{}]}, "mark": {"type": "point", "opacity": 0}, "encoding": {}},
{
 "width": 204, "height": 123,
 "layer": [
  {"data": {"name": "box"}, "transform": [{"filter": "datum.s == 3"}], "mark": {"type": "rect", "filled": false, "color": "#e31e24", "stroke": "#e31e24", "strokeWidth": 1.3, "strokeDash": [6,2,1.5,2]},
   "encoding": {"x": {"field": "t1", "type": "quantitative", "scale": {"domain": [0, 85], "reverse": true, "nice": false, "zero": false}, "axis": {"values": [80,70,60,50,40,30,20,10,0], "tickCount": 30, "labelOverlap": false, "title": "Time (Ma)", "titleX": 109, "labelPadding": 3, "titlePadding": 5, "labelFlush": true}},
    "x2": {"field": "t2"},
    "y": {"field": "T1", "type": "quantitative", "scale": {"domain": [-28, 392], "reverse": true, "nice": false, "zero": false}, "axis": {"values": [0,50,100,150,200,250,300,350], "tickCount": 30, "labelOverlap": false, "labelExpr": "datum.value % 100 == 0 ? datum.label : ''", "tickSize": 3, "labelPadding": 5, "title": "Temperature (°C)", "titleFontSize": 13, "titlePadding": 2}},
    "y2": {"field": "T2"}}},
  {"data": {"name": "tt"}, "transform": [{"filter": "datum.s == 3 && datum.c == 'g'"}], "mark": {"type": "line", "color": "#4d4d4d", "strokeWidth": 1, "clip": true},
   "encoding": {"x": {"field": "t", "type": "quantitative"}, "y": {"field": "T", "type": "quantitative"}, "detail": {"field": "p", "type": "nominal"}, "order": {"field": "t", "type": "quantitative"}}},
  {"data": {"name": "tt"}, "transform": [{"filter": "datum.s == 3 && datum.c == 'c'"}], "mark": {"type": "line", "color": "#29abe2", "strokeWidth": 1.6, "clip": true},
   "encoding": {"x": {"field": "t", "type": "quantitative"}, "y": {"field": "T", "type": "quantitative"}, "detail": {"field": "p", "type": "nominal"}, "order": {"field": "t", "type": "quantitative"}}}
 ]
}
],
"config": {
 "view": {"stroke": "#231f20", "strokeWidth": 1},
 "axis": {"domain": false, "grid": false, "labelFont": "Liberation Sans", "labelFontSize": 11, "labelColor": "#231f20", "titleFont": "Liberation Sans", "titleFontSize": 11, "titleFontWeight": "normal", "titleColor": "#231f20", "tickColor": "#231f20", "tickSize": 3},
 "legend": {"orient": "none", "labelFont": "Lato", "labelFontSize": 12, "labelColor": "#231f20", "titleFont": "Lato", "titleFontSize": 12, "titleFontWeight": "normal", "titleColor": "#231f20", "strokeColor": "#231f20", "fillColor": "#ffffff", "labelLimit": 400}
}
}
